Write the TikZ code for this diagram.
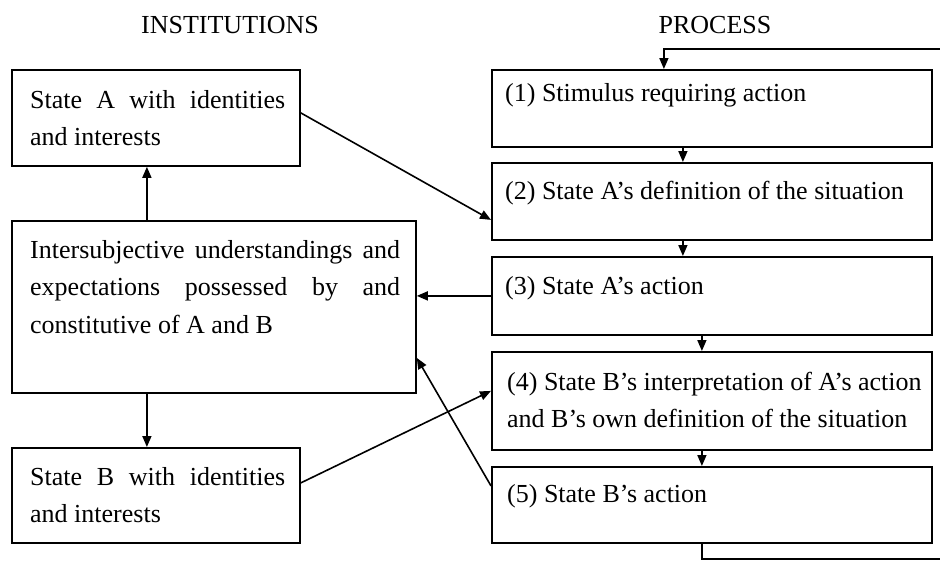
\documentclass[tikz,border=0pt]{standalone}
\usepackage{fontspec}
\setmainfont{Liberation Serif}
\usetikzlibrary{arrows.meta}
% a justified line of a given width
\newcommand\jline[2]{\makebox[#1][s]{\spaceskip=0pt\xspaceskip=0pt #2}}
\begin{document}
\begin{tikzpicture}[x=1pt,y=-1pt,
  box/.style={draw, line width=1.8pt, rectangle, anchor=north west, inner sep=0pt},
  txt/.style={anchor=base west, inner sep=0pt, align=justify,
    font=\fontsize{26}{37.5}\selectfont},
  head/.style={anchor=base, inner sep=0pt, font=\fontsize{26}{30}\selectfont},
  arr/.style={line width=1.6pt, -{Triangle[length=11pt,width=9pt]}},
  link/.style={line width=1.6pt}]

% page
\path[fill=white, use as bounding box] (0,0) rectangle (940,560);

% column headings
\node[head] (hInst) at (230,33) {INSTITUTIONS};
\node[head] (hProc) at (715,33) {PROCESS};

% institutions column
\node[box, minimum width=288pt, minimum height=96pt]  (A) at (11,69) {};
\node[box, minimum width=404pt, minimum height=172pt] (I) at (11,220) {};
\node[box, minimum width=288pt, minimum height=95pt]  (B) at (11,447) {};

\node[txt, text width=260pt] (tA) at (30,108)
  {\jline{255pt}{State A with identities}\\and interests};
\node[txt, text width=375pt] (tI) at (30,258)
  {\jline{370pt}{Intersubjective understandings and}\\
   \jline{370pt}{expectations possessed by and}\\
   constitutive of A and B};
\node[txt, text width=260pt] (tB) at (30,485)
  {\jline{255pt}{State B with identities}\\and interests};

% process column
\node[box, minimum width=440pt, minimum height=77pt] (p1) at (491,69) {};
\node[box, minimum width=440pt, minimum height=77pt] (p2) at (491,162) {};
\node[box, minimum width=440pt, minimum height=78pt] (p3) at (491,256) {};
\node[box, minimum width=440pt, minimum height=98pt] (p4) at (491,351) {};
\node[box, minimum width=440pt, minimum height=76pt] (p5) at (491,466) {};

\node[txt, text width=420pt] (t1) at (505,101) {(1) Stimulus requiring action};
\node[txt, text width=420pt] (t2) at (505,199) {(2) State A’s definition of the situation};
\node[txt, text width=420pt] (t3) at (505,294) {(3) State A’s action};
\node[txt, text width=420pt] (t4) at (507,390)
  {(4) State B’s interpretation of A’s action\\and B’s own definition of the situation};
\node[txt, text width=420pt] (t5) at (507,502) {(5) State B’s action};

% vertical flow in the institutions column
\draw[arr] ([xshift=-9pt]A.south |- I.north) -- ([xshift=-9pt]A.south);
\draw[arr] ([xshift=-9pt]B.north |- I.south) -- ([xshift=-9pt]B.north);

% vertical flow in the process column
\draw[arr] ([xshift=-29pt]p1.south) -- ([xshift=-29pt]p2.north);
\draw[arr] ([xshift=-29pt]p2.south) -- ([xshift=-29pt]p3.north);
\draw[arr] ([xshift=-10pt]p3.south) -- ([xshift=-10pt]p4.north);
\draw[arr] ([xshift=-10pt]p4.south) -- ([xshift=-10pt]p5.north);

% feedback loop ends
\coordinate (fbIn)  at (940,49);
\coordinate (fbOut) at (940,559);
\draw[arr] (fbIn) -| ([xshift=-48pt]p1.north);
\draw[link] ([xshift=-10pt]p5.south) |- (fbOut);

% links between the columns
\draw[arr] ([yshift=5pt]A.east) -- ([yshift=-18.5pt]p2.west);
\draw[arr] (p3.west) -- (p3.west -| I.east);
\draw[arr] ([yshift=12.5pt]B.east) -- ([yshift=10pt]p4.west);
\draw[arr] ([yshift=19pt]p5.west) -- ([yshift=-51pt]I.east);

\end{tikzpicture}
\end{document}
